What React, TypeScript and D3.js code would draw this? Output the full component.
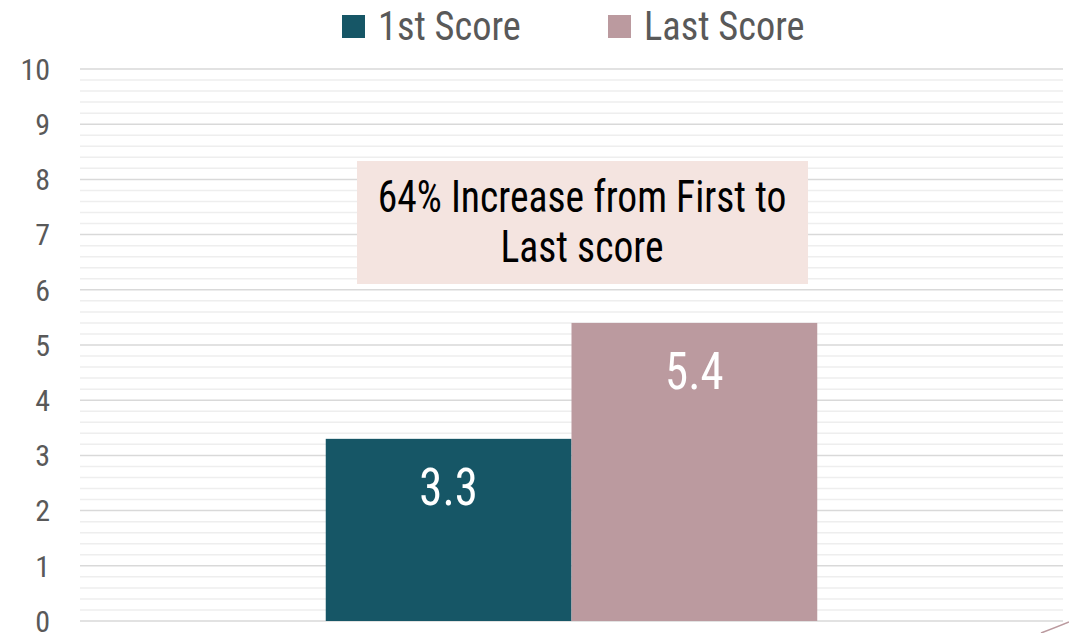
import { useEffect, useRef } from "react";
import * as d3 from "d3";

const categories = ["Score"];
const seriesNames = ["1st Score", "Last Score"];
const seriesValues = [3.3, 5.4];
const seriesColors = ["#165666", "#bb9a9f"];
const yTicks = [0, 1, 2, 3, 4, 5, 6, 7, 8, 9, 10];
const noteLines = ["64% Increase from First to", "Last score"];

const FONT = "'Roboto Condensed', 'Liberation Sans Narrow', 'DejaVu Sans Condensed', sans-serif";

export default function App() {
  const svgRef = useRef<SVGSVGElement>(null);

  useEffect(() => {
    const width = 1069;
    const height = 633;
    const margin = { top: 69, right: 6, bottom: 12, left: 80 };

    const svg = d3.select(svgRef.current);
    svg.selectAll("*").remove();

    const y = d3
      .scaleLinear()
      .domain([0, 10])
      .range([height - margin.bottom, margin.top]);

    const x0 = d3
      .scaleBand()
      .domain(categories)
      .range([margin.left, width - margin.right])
      .paddingInner(0)
      .paddingOuter(0.5);

    const x1 = d3
      .scaleBand()
      .domain(seriesNames)
      .range([0, x0.bandwidth()]);

    // minor gridlines every 0.2
    const minor = d3.range(0, 10.001, 0.2).filter((v) => Math.abs(v - Math.round(v)) > 0.01);
    svg
      .append("g")
      .selectAll("line")
      .data(minor)
      .join("line")
      .attr("x1", margin.left)
      .attr("x2", width - margin.right)
      .attr("y1", (d) => y(d))
      .attr("y2", (d) => y(d))
      .attr("stroke", "#eeeeee")
      .attr("stroke-width", 1.5);

    svg
      .append("g")
      .selectAll("line")
      .data(yTicks)
      .join("line")
      .attr("x1", margin.left)
      .attr("x2", width - margin.right)
      .attr("y1", (d) => y(d))
      .attr("y2", (d) => y(d))
      .attr("stroke", "#d9d9d9")
      .attr("stroke-width", 1.5);

    svg
      .append("g")
      .selectAll("text")
      .data(yTicks)
      .join("text")
      .attr("x", 50)
      .attr("y", (d) => y(d))
      .attr("dy", "0.36em")
      .attr("text-anchor", "end")
      .attr("fill", "#595959")
      .style("font-family", FONT)
      .style("font-size", "30px")
      .text((d) => d);

    const group = svg
      .append("g")
      .selectAll("g")
      .data(categories)
      .join("g")
      .attr("transform", (d) => `translate(${x0(d)},0)`);

    const bars = group
      .selectAll("g")
      .data(seriesNames.map((name, i) => ({ name, value: seriesValues[i], color: seriesColors[i] })))
      .join("g");

    bars
      .append("rect")
      .attr("x", (d) => x1(d.name)!)
      .attr("width", x1.bandwidth())
      .attr("y", (d) => y(d.value))
      .attr("height", (d) => y(0) - y(d.value))
      .attr("fill", (d) => d.color);

    bars
      .append("text")
      .attr(
        "transform",
        (d) => `translate(${x1(d.name)! + x1.bandwidth() / 2},${y(d.value) + 66}) scale(0.9,1)`,
      )
      .attr("text-anchor", "middle")
      .attr("fill", "#ffffff")
      .style("font-family", FONT)
      .style("font-size", "52px")
      .text((d) => d.value.toFixed(1));

    // annotation box
    svg
      .append("rect")
      .attr("x", 357)
      .attr("y", 161)
      .attr("width", 451)
      .attr("height", 123)
      .attr("fill", "#f4e4e0");

    svg
      .append("g")
      .selectAll("text")
      .data(noteLines)
      .join("text")
      .attr("transform", (_, i) => `translate(582,${212 + i * 50}) scale(0.9,1)`)
      .attr("text-anchor", "middle")
      .attr("fill", "#000000")
      .style("font-family", FONT)
      .style("font-size", "44px")
      .text((d) => d);

    // legend
    const legendX = [342, 608];
    const legend = svg
      .append("g")
      .selectAll("g")
      .data(seriesNames)
      .join("g")
      .attr("transform", (_, i) => `translate(${legendX[i]},15)`);
    legend
      .append("rect")
      .attr("width", 23)
      .attr("height", 23)
      .attr("fill", (_, i) => seriesColors[i]);
    legend
      .append("text")
      .attr("transform", "translate(36,25) scale(0.96,1)")
      .attr("fill", "#595959")
      .style("font-family", FONT)
      .style("font-size", "40px")
      .text((d) => d);

    // small stray stroke in the corner
    svg
      .append("path")
      .attr("d", `M${width - 28},${height} Q${width - 12},${height - 6} ${width},${height - 11}`)
      .attr("fill", "none")
      .attr("stroke", "#bb9a9f")
      .attr("stroke-width", 1.5);
  }, []);

  return (
    <div style={{ position: "absolute", left: 0, top: 0, width: 1069, height: 633, overflow: "hidden" }}>
      <svg ref={svgRef} width={1069} height={633}></svg>
    </div>
  );
}
